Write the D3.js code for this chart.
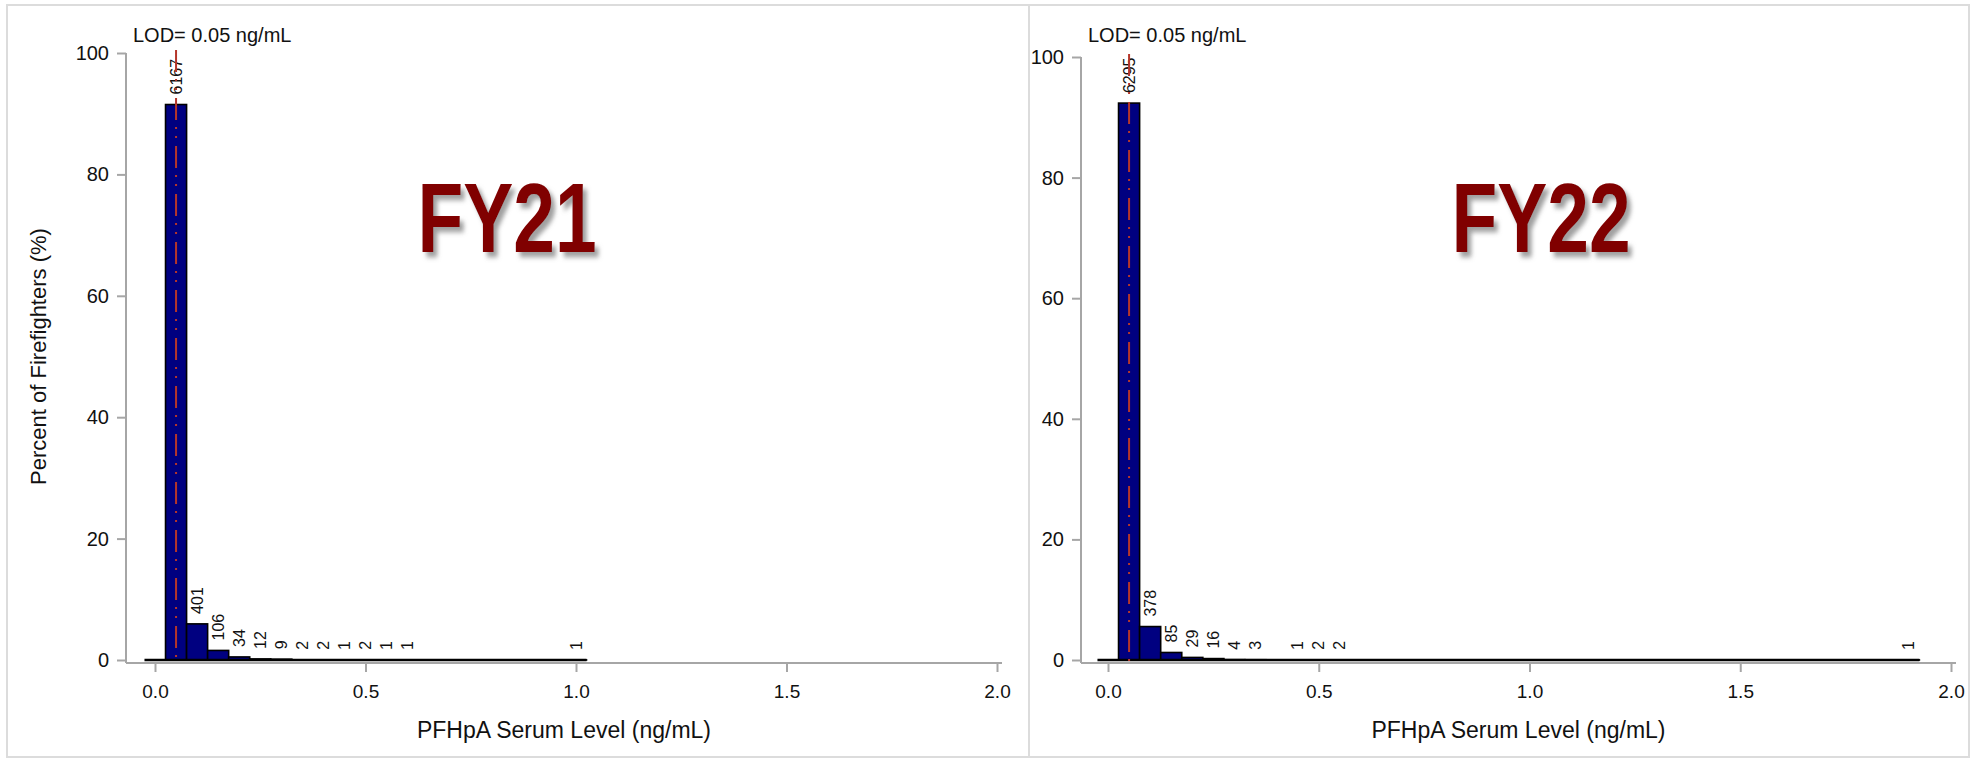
<!DOCTYPE html>
<html>
<head>
<meta charset="utf-8">
<script src="https://cdn.jsdelivr.net/npm/d3@7"></script>
<style>
  html, body { margin: 0; padding: 0; background: #fff; }
  svg { display: block; font-family: "Liberation Sans", Arial, sans-serif; }
</style>
</head>
<body>
<svg id="chart" width="1972" height="760"></svg>
<script>
// ---- Data ----
const binWidth = 0.05;
const lod = 0.05;
const fy21Centers = [0.05, 0.10, 0.15, 0.20, 0.25, 0.30, 0.35, 0.40, 0.45, 0.50, 0.55, 0.60, 1.00];
const fy21Counts  = [6167, 401, 106, 34, 12, 9, 2, 2, 1, 2, 1, 1, 1];
const fy21BinRange = [0.00, 1.00];
const fy22Centers = [0.05, 0.10, 0.15, 0.20, 0.25, 0.30, 0.35, 0.45, 0.50, 0.55, 1.90];
const fy22Counts  = [6295, 378, 85, 29, 16, 4, 3, 1, 2, 2, 1];
const fy22BinRange = [0.00, 1.90];
const xTicks = [0, 0.5, 1.0, 1.5, 2.0];
const yTicks = [0, 20, 40, 60, 80, 100];
const panelTitles = ["FY21", "FY22"];
const lodLabel = "LOD= 0.05 ng/mL";
const xTitle = "PFHpA Serum Level (ng/mL)";
const yTitle = "Percent of Firefighters (%)";

const svg = d3.select("#chart");

// drop shadow filter for big labels
const defs = svg.append("defs");
const f = defs.append("filter").attr("id", "shadow").attr("x", "-20%").attr("y", "-20%").attr("width", "140%").attr("height", "140%");
f.append("feDropShadow").attr("dx", 4).attr("dy", 4).attr("stdDeviation", 2.2)
  .attr("flood-color", "#777").attr("flood-opacity", 0.7);

// frame
svg.append("rect").attr("x", 7).attr("y", 5).attr("width", 1962).attr("height", 752)
  .attr("fill", "none").attr("stroke", "#dcdcdc").attr("stroke-width", 2);
svg.append("line").attr("x1", 1029).attr("x2", 1029).attr("y1", 5).attr("y2", 757)
  .attr("stroke", "#dcdcdc").attr("stroke-width", 2);

const panels = [
  { centers: fy21Centers, counts: fy21Counts, binRange: fy21BinRange, title: panelTitles[0],
    axisX: 126, x0: 155, x2: 997, axisEnd: 1002, y0: 660, y100: 53, titleCx: 507, showY: true },
  { centers: fy22Centers, counts: fy22Counts, binRange: fy22BinRange, title: panelTitles[1],
    axisX: 1081, x0: 1108, x2: 1951, axisEnd: 1956, y0: 660, y100: 57, titleCx: 1541, showY: false }
];

const axisColor = "#a6a6a6";

panels.forEach(p => {
  const g = svg.append("g");
  const x = d3.scaleLinear().domain([0, 2]).range([p.x0, p.x2]);
  const y = d3.scaleLinear().domain([0, 100]).range([p.y0, p.y100]);
  const total = d3.sum(p.counts);
  const countMap = new Map(p.centers.map((c, i) => [Math.round(c / binWidth), p.counts[i]]));
  const nBins = Math.round((p.binRange[1] - p.binRange[0]) / binWidth) + 1;
  const bins = d3.range(nBins).map(i => {
    const c = p.binRange[0] + i * binWidth;
    const k = Math.round(c / binWidth);
    const n = countMap.get(k) || 0;
    return { c, n, pct: n / total * 100 };
  });

  // axes
  const axisY = p.y0 + 3;
  g.append("line").attr("x1", p.axisX).attr("x2", p.axisEnd).attr("y1", axisY).attr("y2", axisY)
    .attr("stroke", axisColor).attr("stroke-width", 2);
  g.append("line").attr("x1", p.axisX).attr("x2", p.axisX).attr("y1", p.y100).attr("y2", axisY)
    .attr("stroke", axisColor).attr("stroke-width", 2);

  const xa = g.append("g").attr("transform", `translate(0,${axisY})`)
    .call(d3.axisBottom(x).tickValues(xTicks).tickFormat(d3.format(".1f")).tickSize(9).tickPadding(13));
  xa.select(".domain").remove();
  xa.selectAll(".tick line").attr("stroke", axisColor).attr("stroke-width", 2);
  xa.selectAll(".tick text").attr("font-size", 19).attr("fill", "#111").attr("font-family", "Liberation Sans, Arial, sans-serif");

  const ya = g.append("g").attr("transform", `translate(${p.axisX},0)`)
    .call(d3.axisLeft(y).tickValues(yTicks).tickSize(9).tickPadding(8));
  ya.select(".domain").remove();
  ya.selectAll(".tick line").attr("stroke", axisColor).attr("stroke-width", 2);
  ya.selectAll(".tick text").attr("font-size", 20).attr("fill", "#111").attr("font-family", "Liberation Sans, Arial, sans-serif");

  // histogram bars
  g.selectAll("rect.bar").data(bins.filter(d => d.n > 0)).join("rect").attr("class", "bar")
    .attr("x", d => x(d.c - binWidth / 2))
    .attr("width", d => x(d.c + binWidth / 2) - x(d.c - binWidth / 2))
    .attr("y", d => y(d.pct))
    .attr("height", d => y(0) - y(d.pct))
    .attr("fill", "#000080").attr("stroke", "#000").attr("stroke-width", 1.6);

  // baseline outline of all bins (zero-height bins appear as a line)
  g.append("line")
    .attr("x1", x(p.binRange[0] - binWidth / 2)).attr("x2", x(p.binRange[1] + binWidth / 2))
    .attr("y1", y(0)).attr("y2", y(0))
    .attr("stroke", "#000").attr("stroke-width", 2.4);

  // count labels
  g.selectAll("text.cnt").data(bins.filter(d => d.n > 0)).join("text").attr("class", "cnt")
    .attr("transform", d => `translate(${x(d.c)},${y(d.pct) - 10}) rotate(-90)`)
    .attr("dy", "0.35em").attr("text-anchor", "start")
    .attr("font-size", 16).attr("fill", "#111")
    .text(d => d.n);

  // LOD reference line
  g.append("line").attr("x1", x(lod)).attr("x2", x(lod)).attr("y1", p.y100 - 3).attr("y2", p.y0 + 2)
    .attr("stroke", "#b5362a").attr("stroke-width", 2)
    .attr("stroke-dasharray", "22,7,2,7,2,8");

  // LOD text
  g.append("text").attr("x", p.axisX + 7).attr("y", 42)
    .attr("font-size", 20).attr("fill", "#111").text(lodLabel);

  // x title
  g.append("text").attr("x", (p.axisX + p.axisEnd) / 2).attr("y", 738)
    .attr("text-anchor", "middle").attr("font-size", 23).attr("fill", "#111").text(xTitle);

  if (p.showY) {
    g.append("text").attr("transform", `translate(46,${(p.y0 + p.y100) / 2}) rotate(-90)`)
      .attr("text-anchor", "middle").attr("font-size", 22).attr("fill", "#111").text(yTitle);
  }

  // big panel title
  g.append("text").attr("transform", `translate(${p.titleCx},252) scale(1,1.3)`)
    .attr("text-anchor", "middle").attr("font-size", 75).attr("font-weight", "bold")
    .attr("fill", "#800000").attr("filter", "url(#shadow)").text(p.title);
});
</script>
</body>
</html>
